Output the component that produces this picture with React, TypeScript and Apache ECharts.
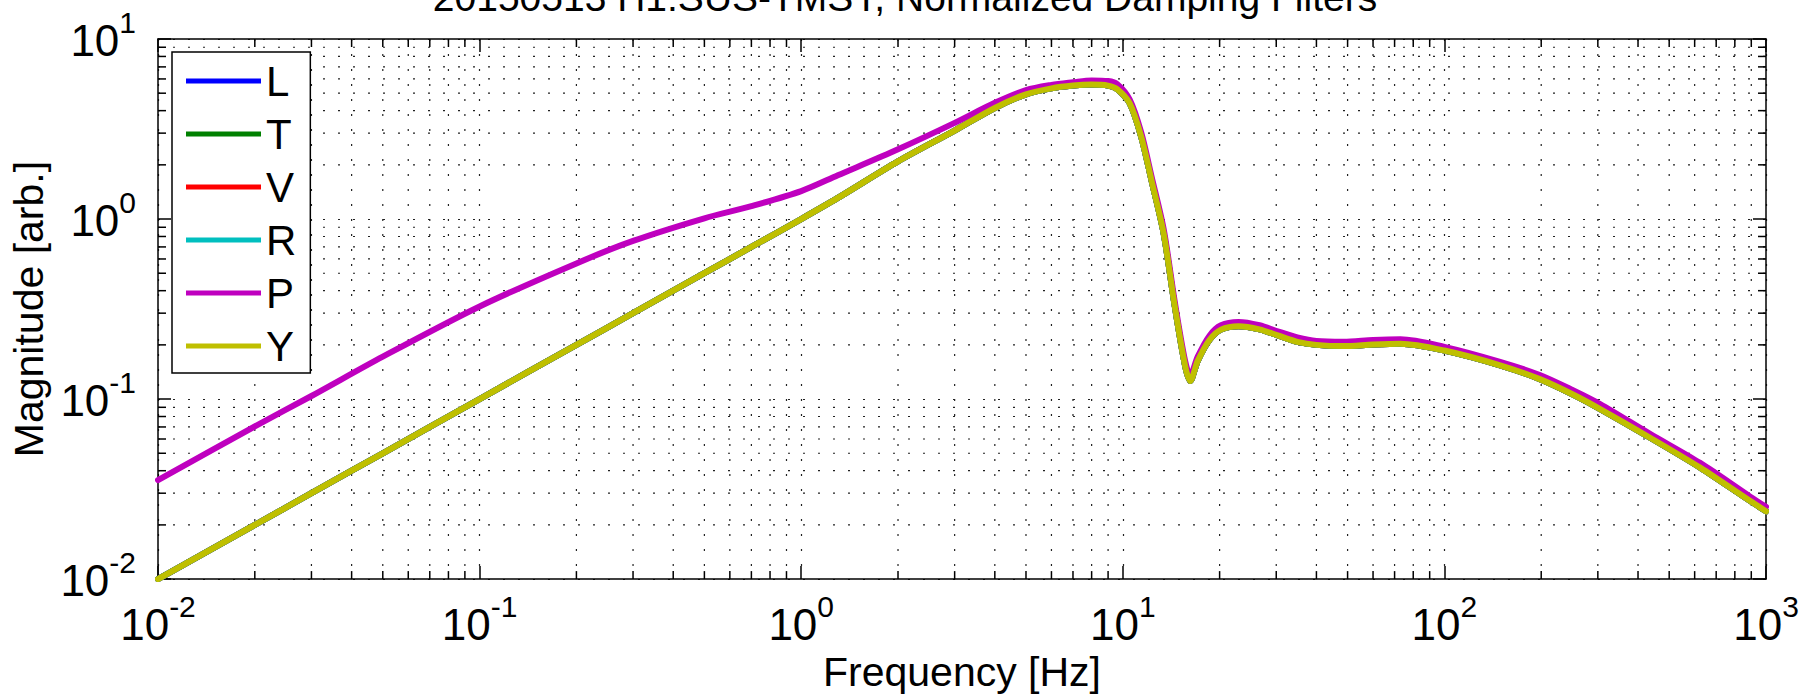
import React, { useEffect, useRef } from 'react';
import * as echarts from 'echarts';

const FONT = '"Liberation Sans", Arial, Helvetica, sans-serif';

const titleText = '20150513 H1:SUS-TMSY, Normalized Damping Filters';
const xAxisTitle = 'Frequency [Hz]';
const yAxisTitle = 'Magnitude [arb.]';

const seriesNames = ['L', 'T', 'V', 'R', 'P', 'Y'];
const seriesColors = ['#0000ff', '#008000', '#ff0000', '#00bfbf', '#bf00bf', '#bfbf00'];

// frequency points (Hz)
const freqHz = [
  0.01, 0.02, 0.03, 0.05, 0.1, 0.2, 0.3, 0.5, 0.7, 1, 1.3, 2, 3, 4, 5, 6, 7, 8, 9, 9.6,
  10.5, 11.4, 12.3, 13.4, 14.5, 15.6, 16.2, 17.1, 18.6, 20.2, 22.9, 26.6, 30.5, 34.9, 40,
  48.6, 60, 73, 100, 149, 198, 251, 305, 436, 624, 891, 1000,
];

// L, T, V, R, Y share the same normalized response
const magLTVRY = [
  0.01, 0.02, 0.03, 0.05, 0.1, 0.2, 0.3, 0.5, 0.7, 1.0, 1.31, 2.09, 3.1, 4.14, 4.93, 5.32, 5.51, 5.58, 5.51, 5.27,
  4.4, 2.88, 1.62, 0.83, 0.33, 0.155, 0.126, 0.163, 0.213, 0.243, 0.254, 0.244, 0.225, 0.208, 0.2,
  0.197, 0.201, 0.203, 0.186, 0.154, 0.129, 0.106, 0.088, 0.061, 0.0416, 0.0272, 0.0238,
];

// P (pitch)
const magP = [
  0.0355, 0.0705, 0.104, 0.172, 0.327, 0.567, 0.756, 1.01, 1.18, 1.43, 1.75, 2.44, 3.42, 4.42, 5.2, 5.56, 5.75, 5.89, 5.84, 5.63,
  4.62, 3.04, 1.71, 0.88, 0.349, 0.165, 0.135, 0.172, 0.225, 0.257, 0.268, 0.257, 0.237, 0.22, 0.21,
  0.208, 0.213, 0.215, 0.195, 0.161, 0.136, 0.112, 0.0938, 0.0641, 0.0442, 0.0288, 0.0252,
];

const seriesValues = [magLTVRY, magLTVRY, magLTVRY, magLTVRY, magP, magLTVRY];

const xMin = 0.01;
const xMax = 1000;
const yMin = 0.01;
const yMax = 10;
const xDecades = [0.01, 0.1, 1, 10, 100];
const yDecades = [0.01, 0.1, 1];
const minorMultipliers = [2, 3, 4, 5, 6, 7, 8, 9];

type GridItem = { axis: 'x' | 'y'; value: number };
const gridItems: GridItem[] = [];
xDecades.forEach((d) => minorMultipliers.forEach((m) => gridItems.push({ axis: 'x', value: d * m })));
yDecades.forEach((d) => minorMultipliers.forEach((m) => gridItems.push({ axis: 'y', value: d * m })));

const tickFormatter = (v: number) => {
  const e = Math.round(Math.log10(v));
  return `{b|10}{e|${e}}`;
};

const richLabel = {
  b: { fontSize: 44, fontFamily: FONT, color: '#000', verticalAlign: 'bottom', padding: [11, 0, 0, 0] },
  e: { fontSize: 30, fontFamily: FONT, color: '#000', verticalAlign: 'top' },
};

const GRID_DASH = [2, 13];
const axisLineStyle = { show: true, lineStyle: { color: '#000', width: 1.5 } };
const majorTick = { show: true, inside: true, length: 13, lineStyle: { color: '#000', width: 1.5 } };
const dottedSplit = { show: true, lineStyle: { color: '#222', width: 1.2, type: GRID_DASH } };

export default function App() {
  const ref = useRef<HTMLDivElement>(null);

  useEffect(() => {
    if (!ref.current) return;
    const chart = echarts.init(ref.current, undefined, { renderer: 'svg' });

    const lineSeries = seriesNames.map((name, i) => ({
      name,
      type: 'line',
      data: freqHz.map((f, k) => [f, seriesValues[i][k]]),
      symbol: 'none',
      showSymbol: false,
      smooth: 0.3,
      silent: true,
      z: 3,
      lineStyle: { width: 6, color: seriesColors[i], join: 'round', cap: 'round' },
      itemStyle: { color: seriesColors[i] },
    }));

    const gridSeries = {
      type: 'custom',
      silent: true,
      z: 1,
      clip: false,
      data: gridItems.map((g) => (g.axis === 'x' ? [g.value, 1] : [1, g.value])),
      renderItem: (params: any, api: any) => {
        const cs = params.coordSys;
        const g = gridItems[params.dataIndex];
        const dot = { stroke: '#222', lineWidth: 1.2, lineDash: GRID_DASH };
        const tick = { stroke: '#000', lineWidth: 1.5 };
        if (g.axis === 'x') {
          const x = api.coord([g.value, 1])[0];
          const yb = cs.y + cs.height;
          return {
            type: 'group',
            children: [
              { type: 'line', shape: { x1: x, y1: cs.y, x2: x, y2: yb }, style: dot },
              { type: 'line', shape: { x1: x, y1: yb, x2: x, y2: yb - 8 }, style: tick },
              { type: 'line', shape: { x1: x, y1: cs.y, x2: x, y2: cs.y + 8 }, style: tick },
            ],
          };
        }
        const y = api.coord([1, g.value])[1];
        const xr = cs.x + cs.width;
        return {
          type: 'group',
          children: [
            { type: 'line', shape: { x1: cs.x, y1: y, x2: xr, y2: y }, style: dot },
            { type: 'line', shape: { x1: cs.x, y1: y, x2: cs.x + 8, y2: y }, style: tick },
            { type: 'line', shape: { x1: xr, y1: y, x2: xr - 8, y2: y }, style: tick },
          ],
        };
      },
    };

    chart.setOption({
      animation: false,
      backgroundColor: '#fff',
      textStyle: { fontFamily: FONT },
      grid: { left: 158, right: 36, top: 39, bottom: 114, containLabel: false },
      graphic: [
        {
          type: 'text',
          x: 905,
          y: 17,
          silent: true,
          style: {
            text: titleText,
            fontSize: 39,
            fontFamily: FONT,
            fill: '#000',
            align: 'center',
            verticalAlign: 'bottom',
          },
        },
      ],
      legend: {
        data: seriesNames,
        orient: 'vertical',
        left: 172,
        top: 52,
        padding: [8, 14, 6, 14],
        icon: 'rect',
        itemWidth: 75,
        itemHeight: 5,
        itemGap: 11,
        itemTextGap: 8,
        backgroundColor: '#fff',
        borderColor: '#000',
        borderWidth: 1.5,
        borderRadius: 0,
        selectedMode: false,
        z: 10,
        textStyle: { fontSize: 42, lineHeight: 40, color: '#000', fontFamily: FONT },
      },
      xAxis: [
        {
          type: 'log',
          logBase: 10,
          min: xMin,
          max: xMax,
          position: 'bottom',
          name: xAxisTitle,
          nameLocation: 'middle',
          nameGap: 60,
          nameTextStyle: { fontSize: 41, fontFamily: FONT, color: '#000' },
          axisLine: axisLineStyle,
          axisTick: majorTick,
          axisLabel: { margin: 12, formatter: tickFormatter, rich: richLabel },
          splitLine: dottedSplit,
          minorTick: { show: false },
        },
        {
          type: 'log',
          logBase: 10,
          min: xMin,
          max: xMax,
          position: 'top',
          axisLine: axisLineStyle,
          axisTick: majorTick,
          axisLabel: { show: false },
          splitLine: { show: false },
        },
      ],
      yAxis: [
        {
          type: 'log',
          logBase: 10,
          min: yMin,
          max: yMax,
          position: 'left',
          name: yAxisTitle,
          nameLocation: 'middle',
          nameGap: 99,
          nameTextStyle: { fontSize: 41, fontFamily: FONT, color: '#000' },
          axisLine: axisLineStyle,
          axisTick: majorTick,
          axisLabel: { margin: 22, formatter: tickFormatter, rich: richLabel, padding: [0, 0, 8, 0] },
          splitLine: dottedSplit,
          minorTick: { show: false },
        },
        {
          type: 'log',
          logBase: 10,
          min: yMin,
          max: yMax,
          position: 'right',
          axisLine: axisLineStyle,
          axisTick: majorTick,
          axisLabel: { show: false },
          splitLine: { show: false },
        },
      ],
      series: [gridSeries, ...lineSeries],
    });

    return () => chart.dispose();
  }, []);

  return (
    <div
      ref={ref}
      style={{ position: 'fixed', left: 0, top: 0, width: 1802, height: 697, background: '#fff' }}
    />
  );
}
